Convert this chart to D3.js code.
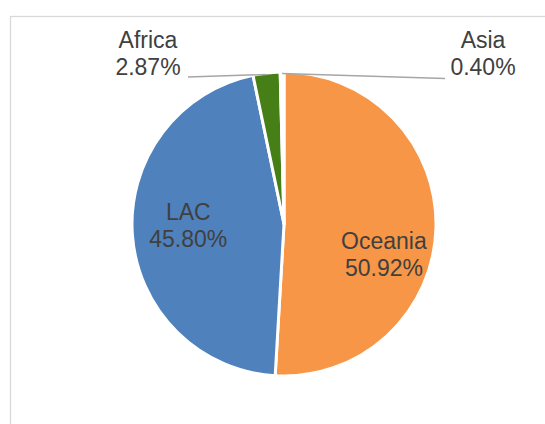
<!DOCTYPE html>
<html>
<head>
<meta charset="utf-8">
<script src="https://cdn.jsdelivr.net/npm/d3@7"></script>
<style>
  html, body { margin: 0; padding: 0; background: #ffffff; }
  svg { display: block; }
</style>
</head>
<body>
<svg id="chart" width="545" height="424"></svg>
<script>
// Regional shares, drawn clockwise from 12 o'clock
const regions = ["Oceania", "LAC", "Africa", "Asia"];
const shares = [50.92, 45.80, 2.87, 0.40];
const sliceColors = ["#F79646", "#4F81BD", "#477F17", "#FFFFFF"];

const svg = d3.select("#chart");
const W = 545, H = 424;
const cx = 284, cy = 224, R = 152;
const font = "'Liberation Sans', Arial, sans-serif";
const textColor = "#404040";

// chart area frame (runs past the right and bottom edges)
svg.append("rect")
  .attr("x", 10.5).attr("y", 16.5)
  .attr("width", W + 40).attr("height", H + 40)
  .attr("fill", "none")
  .attr("stroke", "#D9D9D9")
  .attr("stroke-width", 1.3);

const data = regions.map((r, i) => ({ region: r, value: shares[i], color: sliceColors[i] }));

const pie = d3.pie().sort(null).value(d => d.value).startAngle(0).endAngle(2 * Math.PI);
const arcs = pie(data);

const arc = d3.arc().innerRadius(0).outerRadius(R);
const g = svg.append("g").attr("transform", `translate(${cx},${cy})`);

g.selectAll("path.slice")
  .data(arcs)
  .join("path")
  .attr("class", "slice")
  .attr("d", arc)
  .attr("fill", d => d.data.color)
  .attr("stroke", "#FFFFFF")
  .attr("stroke-width", 3)
  .attr("stroke-linejoin", "round");

const fmt = v => v.toFixed(2) + "%";
const fontSize = 23;
const lineGap = 27;

// labels placed inside the large slices
const inner = d3.arc().innerRadius(100).outerRadius(100);
const insideNudge = { Oceania: [0, 28], LAC: [4, -6] };

// labels outside the thin slices, with leader lines to the rim
const outsideLabel = {
  Africa: { x: 148 - cx, y: 48 - cy, lineStart: [188 - cx, 77 - cy] },
  Asia:   { x: 483 - cx, y: 48 - cy, lineStart: [445 - cx, 78.5 - cy] }
};
const rim = d3.arc().innerRadius(R).outerRadius(R);

arcs.forEach(d => {
  const name = d.data.region;
  let x, y;
  if (insideNudge[name]) {
    const c = inner.centroid(d);
    x = c[0] + insideNudge[name][0];
    y = c[1] + insideNudge[name][1] - lineGap / 2 + 8;
  } else {
    const o = outsideLabel[name];
    x = o.x; y = o.y;
    const end = rim.centroid(d);
    g.append("line")
      .attr("x1", o.lineStart[0]).attr("y1", o.lineStart[1])
      .attr("x2", end[0]).attr("y2", end[1] + 1.5)
      .attr("stroke", "#A6A6A6")
      .attr("stroke-width", 1.5);
  }
  const t = g.append("text")
    .attr("text-anchor", "middle")
    .attr("font-family", font)
    .attr("font-size", fontSize)
    .attr("fill", textColor);
  t.append("tspan").attr("x", x).attr("y", y).text(name);
  t.append("tspan").attr("x", x).attr("y", y + lineGap).text(fmt(d.data.value));
});
</script>
</body>
</html>
